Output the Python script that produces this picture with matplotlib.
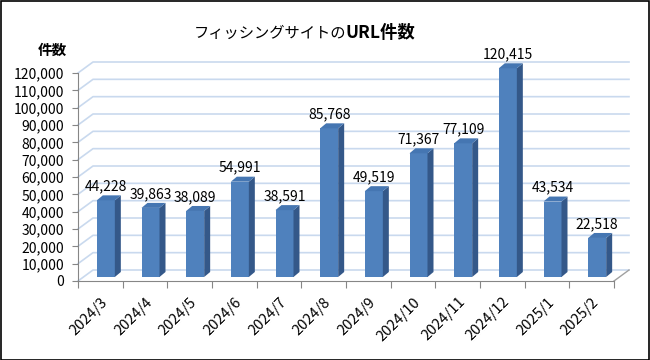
import matplotlib
matplotlib.use("Agg")
import matplotlib.pyplot as plt
from matplotlib.patches import Polygon, Rectangle
from matplotlib.ticker import FuncFormatter

plt.rcParams["font.family"] = ["Noto Sans CJK JP", "DejaVu Sans"]

months = ["2024/3", "2024/4", "2024/5", "2024/6", "2024/7", "2024/8",
          "2024/9", "2024/10", "2024/11", "2024/12", "2025/1", "2025/2"]
counts = [44228, 39863, 38089, 54991, 38591, 85768,
          49519, 71367, 77109, 120415, 43534, 22518]
yticks = list(range(0, 120001, 10000))

W, H = 650, 360
ax_l, ax_r, ax_b, ax_t = 78, 614, 281, 73  # pixel box of the front plane
ymax = 120000
n = len(months)

fig = plt.figure(figsize=(W / 100, H / 100), dpi=100)
ax = fig.add_axes([ax_l / W, 1 - ax_b / H, (ax_r - ax_l) / W, (ax_b - ax_t) / H])
ax.set_xlim(-0.5, n - 0.5)
ax.set_ylim(0, ymax)

# pixel -> data helpers
px_x = n / (ax_r - ax_l)
px_y = ymax / (ax_b - ax_t)

# back wall depth offset
wdx, wdy = 15 * px_x, 11 * px_y
grid_c = "#C9D9EE"
for v in yticks:
    ax.plot([-0.5, -0.5 + wdx, n - 0.5 + wdx], [v, v + wdy, v + wdy],
            color=grid_c, lw=1.2, clip_on=False, zorder=1)
ax.plot([n - 0.5, n - 0.5 + wdx], [0, wdy], color="#A0A0A0", lw=1,
        clip_on=False, zorder=1)

# bars (pseudo 3D)
bx, by = 5.5 * px_x, 4 * px_y
bw = 18 * px_x
sdx, sdy = 6 * px_x, 5 * px_y
front_c, side_c, top_c = "#4F81BD", "#345889", "#4576B2"
xs = list(range(n))
bars = ax.bar([x + bx for x in xs], counts, bottom=by, width=bw,
              color=front_c, zorder=3, linewidth=0)
for b in bars:
    b.set_clip_on(False)
for x, v in zip(xs, counts):
    l = x + bx - bw / 2
    r = x + bx + bw / 2
    ax.add_patch(Polygon([(r, by), (r + sdx, by + sdy), (r + sdx, by + v + sdy), (r, by + v)],
                         closed=True, facecolor=side_c, edgecolor="none", zorder=3,
                         clip_on=False))
    ax.add_patch(Polygon([(l, by + v), (l + sdx, by + v + sdy), (r + sdx, by + v + sdy), (r, by + v)],
                         closed=True, facecolor=top_c, edgecolor="none", zorder=3,
                         clip_on=False))
    ax.text(x + bx, by + v + 14 * px_y, f"{v:,}", ha="center", va="center",
            fontsize=10, color="black", zorder=4)

# axes styling
for s in ["top", "right"]:
    ax.spines[s].set_visible(False)
for s in ["left", "bottom"]:
    ax.spines[s].set_color("#868686")
ax.set_yticks(yticks)
ax.yaxis.set_major_formatter(FuncFormatter(lambda v, p: f"{int(v):,}"))
ax.tick_params(axis="y", length=4, color="#868686", labelsize=10, pad=6)
ax.set_xticks([x + 0.5 for x in range(-1, n)], minor=False)
ax.set_xticklabels([])
ax.tick_params(axis="x", which="major", length=5, color="#868686")
ax.set_xticks(xs, minor=True)
ax.set_xticklabels(months, minor=True, rotation=45, ha="right", va="top",
                   rotation_mode="anchor", fontsize=10.5)
ax.tick_params(axis="x", which="minor", length=0, pad=10)
ax.set_facecolor("none")

# titles
fig.text(346 / W, 1 - 33 / H, "フィッシングサイトの", ha="right", va="center", fontsize=11)
fig.text(346 / W, 1 - 33 / H, "URL件数", ha="left", va="center", fontsize=12.5,
         fontweight="bold")
fig.text(52 / W, 1 - 50 / H, "件数", ha="center", va="center", fontsize=10.5,
         fontweight="bold")

fig.patches.append(Rectangle((0.5 / W, 0.5 / H), 1 - 1.5 / W, 1 - 1.5 / H,
                             transform=fig.transFigure, fill=False,
                             edgecolor="black", lw=1.2))

fig.savefig("out.png", dpi=100)
